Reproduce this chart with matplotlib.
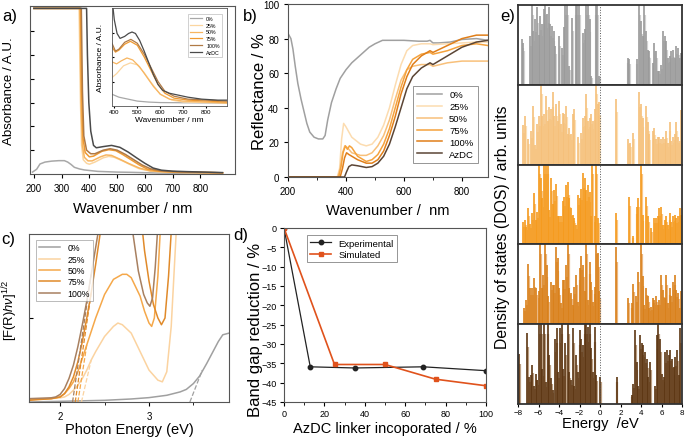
import numpy as np
import matplotlib
matplotlib.use("Agg")
import matplotlib.pyplot as plt
from matplotlib.ticker import MultipleLocator

NARROW = ['Liberation Sans Narrow', 'Liberation Sans', 'DejaVu Sans']
REG = ['Liberation Sans', 'DejaVu Sans']
plt.rcParams['font.family'] = NARROW
plt.rcParams['mathtext.fontset'] = 'custom'
plt.rcParams['mathtext.rm'] = 'Liberation Sans'
plt.rcParams['mathtext.it'] = 'Liberation Sans:italic'

labels_pct = ['0%', '25%', '50%', '75%', '100%', 'AzDC']

# ---------------- panel a : absorbance (main) ----------------
a_wl_0 = [195, 210, 222, 240, 264, 290, 310, 322, 334, 346, 365, 382, 430, 500, 550, 650, 750, 880]
a_ab_0 = [0.08, 0.2, 0.42, 0.5, 0.54, 0.56, 0.56, 0.5, 0.4, 0.28, 0.21, 0.17, 0.11, 0.08, 0.07, 0.04, 0.03, 0.02]
a_wl_25 = [200, 363, 368, 372, 378, 390, 400, 420, 450, 470, 490, 520, 550, 580, 620, 680, 750, 880]
a_ab_25 = [6.95, 6.95, 3.0, 1.2, 0.6, 0.45, 0.41, 0.5, 0.68, 0.74, 0.7, 0.55, 0.38, 0.22, 0.12, 0.08, 0.06, 0.05]
a_wl_50 = [200, 366, 370, 375, 382, 395, 410, 440, 460, 480, 510, 540, 580, 620, 680, 750, 880]
a_ab_50 = [6.95, 6.95, 3.0, 1.2, 0.7, 0.55, 0.55, 0.72, 0.8, 0.78, 0.62, 0.45, 0.25, 0.13, 0.08, 0.06, 0.05]
a_wl_75 = [200, 368, 372, 377, 385, 400, 415, 445, 470, 495, 520, 550, 580, 610, 650, 700, 880]
a_ab_75 = [6.95, 6.95, 3.5, 1.5, 0.9, 0.72, 0.75, 0.95, 1.02, 0.98, 0.82, 0.6, 0.38, 0.2, 0.12, 0.09, 0.05]
a_wl_100 = [200, 371, 375, 380, 390, 405, 420, 450, 475, 500, 530, 560, 590, 620, 660, 720, 880]
a_ab_100 = [6.95, 6.95, 3.5, 1.6, 1.0, 0.85, 0.85, 1.0, 1.06, 1.0, 0.82, 0.6, 0.38, 0.22, 0.13, 0.09, 0.05]
a_wl_az = [200, 390, 393, 398, 405, 415, 425, 450, 480, 510, 540, 570, 600, 630, 660, 700, 750, 880]
a_ab_az = [6.95, 6.95, 5.0, 3.0, 1.8, 1.2, 1.1, 1.15, 1.2, 1.12, 0.92, 0.68, 0.45, 0.25, 0.16, 0.12, 0.1, 0.06]

# ---------------- panel a : inset ----------------
i_wl_0 = [390, 420, 460, 500, 550, 600, 890]
i_ab_0 = [0.12, 0.09, 0.07, 0.05, 0.04, 0.035, 0.03]
i_wl_25 = [390, 410, 440, 470, 500, 530, 560, 600, 650, 700, 890]
i_ab_25 = [0.29, 0.33, 0.41, 0.44, 0.42, 0.34, 0.24, 0.12, 0.06, 0.04, 0.03]
i_wl_50 = [390, 410, 430, 455, 480, 510, 540, 570, 600, 640, 700, 890]
i_ab_50 = [0.45, 0.43, 0.46, 0.49, 0.47, 0.4, 0.3, 0.2, 0.12, 0.07, 0.05, 0.03]
i_wl_75 = [390, 405, 420, 445, 470, 500, 530, 560, 590, 620, 660, 720, 890]
i_ab_75 = [0.6, 0.55, 0.57, 0.63, 0.66, 0.62, 0.5, 0.36, 0.22, 0.13, 0.08, 0.06, 0.04]
i_wl_100 = [390, 405, 420, 445, 472, 500, 530, 560, 590, 620, 660, 720, 890]
i_ab_100 = [0.64, 0.56, 0.58, 0.65, 0.68, 0.64, 0.53, 0.39, 0.25, 0.15, 0.1, 0.07, 0.05]
i_wl_az = [390, 400, 412, 425, 445, 462, 477, 492, 510, 530, 550, 570, 590, 610, 640, 680, 720, 780, 850, 890]
i_ab_az = [1.1, 0.88, 0.74, 0.69, 0.71, 0.74, 0.755, 0.74, 0.67, 0.56, 0.44, 0.32, 0.22, 0.16, 0.13, 0.11, 0.09, 0.07, 0.06, 0.06]

# ---------------- panel b : reflectance ----------------
b_wl_0 = [200, 210, 217, 225, 234, 245, 255, 265, 275, 290, 305, 320, 328, 337, 350, 366, 380, 400, 420, 440, 460, 480, 500, 526, 560, 600, 650, 680, 690, 700, 720, 760, 800, 850, 890]
b_r_0 = [83, 80, 74, 64, 54, 45, 38, 31, 26, 23, 22, 22, 24, 33, 43, 51, 57, 62, 66, 69, 72, 75, 77, 79, 79, 79, 78.5, 78.5, 79, 77.5, 77.5, 78, 79.5, 80, 79]
b_wl_25 = [200, 370, 378, 385, 392, 400, 420, 450, 470, 490, 510, 530, 550, 570, 590, 610, 630, 660, 690, 700, 750, 800, 850, 890]
b_r_25 = [0, 0, 5, 22, 31, 29, 23, 19, 18, 19, 23, 30, 40, 53, 65, 73, 76, 77, 77, 76.5, 77, 77.5, 78, 78]
b_wl_50 = [200, 372, 380, 388, 396, 405, 420, 450, 470, 490, 510, 530, 550, 570, 590, 610, 630, 660, 690, 700, 750, 800, 850, 890]
b_r_50 = [0, 0, 5, 14, 18, 17, 14, 12.5, 12.5, 14, 18, 24, 33, 45, 56, 62, 64, 65, 65, 64, 66, 67, 67, 67]
b_wl_75 = [200, 375, 383, 390, 398, 405, 412, 420, 440, 470, 490, 510, 530, 550, 570, 590, 610, 630, 660, 690, 700, 750, 800, 850, 890]
b_r_75 = [0, 0, 6, 14, 18, 16, 18, 17, 12, 9, 10, 13, 19, 28, 40, 52, 62, 68, 71, 72, 71, 73, 76, 77, 76]
b_wl_100 = [200, 380, 388, 395, 402, 410, 420, 440, 470, 490, 510, 530, 550, 570, 590, 610, 630, 660, 690, 700, 750, 800, 850, 890]
b_r_100 = [0, 0, 5, 11, 14, 13, 12, 10, 8, 8, 10, 15, 24, 35, 48, 58, 65, 70, 73, 72, 76, 80, 82, 82]
b_wl_az = [200, 395, 402, 410, 420, 440, 470, 490, 510, 530, 550, 570, 590, 610, 630, 660, 690, 700, 750, 800, 850, 890]
b_r_az = [0, 0, 3, 6, 7, 6.5, 5.5, 6, 8, 12, 19, 29, 40, 51, 58, 63, 66, 65, 70, 75, 78, 79]

# ---------------- panel c : Tauc plot ----------------
c_e_0 = [1.65, 2.0, 2.5, 2.8, 3.0, 3.2, 3.35, 3.42, 3.5, 3.57, 3.65, 3.72, 3.78, 3.83, 3.9]
c_v_0 = [0.0, 0.004, 0.01, 0.018, 0.026, 0.04, 0.06, 0.075, 0.11, 0.155, 0.23, 0.3, 0.36, 0.4, 0.41]
c_e_25 = [1.65, 1.8, 1.9, 2.0, 2.05, 2.1, 2.15, 2.2, 2.25, 2.3, 2.35, 2.4, 2.5, 2.6, 2.65, 2.7, 2.8, 2.9, 3.0, 3.1, 3.15, 3.2, 3.25, 3.28, 3.31]
c_v_25 = [0.015, 0.017, 0.02, 0.025, 0.03, 0.045, 0.07, 0.1, 0.14, 0.19, 0.25, 0.3, 0.39, 0.45, 0.47, 0.46, 0.41, 0.3, 0.19, 0.13, 0.12, 0.18, 0.45, 0.75, 1.05]
c_e_50 = [1.65, 1.9, 2.0, 2.05, 2.1, 2.15, 2.2, 2.25, 2.3, 2.4, 2.5, 2.6, 2.7, 2.75, 2.8, 2.9, 2.95, 3.0, 3.03, 3.06, 3.1, 3.13]
c_v_50 = [0.015, 0.02, 0.03, 0.05, 0.08, 0.12, 0.18, 0.26, 0.34, 0.5, 0.64, 0.73, 0.76, 0.76, 0.74, 0.63, 0.54, 0.47, 0.45, 0.5, 0.75, 1.05]
c_e_75 = [1.65, 1.9, 2.0, 2.05, 2.1, 2.15, 2.2, 2.25, 2.3, 2.35, 2.4, 2.45, 2.5, 2.6, 2.8, 2.9, 2.95, 3.0, 3.05, 3.1, 3.14, 3.18, 3.22, 3.26]
c_v_75 = [0.01, 0.02, 0.03, 0.05, 0.09, 0.15, 0.24, 0.36, 0.5, 0.65, 0.82, 1.0, 1.2, 1.6, 1.6, 1.15, 0.9, 0.72, 0.58, 0.5, 0.46, 0.5, 0.75, 1.1]
c_e_100 = [1.65, 1.9, 1.95, 2.0, 2.05, 2.1, 2.15, 2.2, 2.25, 2.3, 2.35, 2.4, 2.45, 2.5, 2.6, 2.75, 2.82, 2.88, 2.94, 2.98, 3.01, 3.04, 3.07, 3.1]
c_v_100 = [0.02, 0.025, 0.03, 0.045, 0.08, 0.14, 0.22, 0.33, 0.46, 0.6, 0.76, 0.92, 1.08, 1.25, 1.6, 1.6, 1.0, 0.78, 0.64, 0.59, 0.57, 0.62, 0.8, 1.05]
# tangent (band-gap extrapolation) lines: start energy, end energy, end value
c_tan_x0 = [3.46, 2.24, 2.2, 2.17, 2.14]
c_tan_x1 = [3.6, 2.35, 2.3, 2.35, 2.35]
c_tan_y1 = [0.19, 0.25, 0.34, 0.65, 0.76]

# ---------------- panel d : band gap reduction ----------------
d_exp_x = [0, 13, 35, 69, 100]
d_exp_y = [0, -35.9, -36.2, -35.9, -36.9]
d_sim_x = [0, 25, 50, 75, 100]
d_sim_y = [0, -35.3, -35.3, -39.1, -40.8]

# ---------------- panel e : DOS spikes (energy eV, relative height) ----------------
e1_E = [-7.64, -7.51, -6.82, -6.66, -6.49, -6.33, -6.16, -6.00, -5.84, -5.67, -5.51, -5.34, -5.18, -5.02, -4.85, -4.69, -4.52, -4.36, -4.03, -3.70, -3.54, -3.38, -3.21, -3.05, -2.72, -2.39, -2.23, -2.07, -1.67, -1.51, -1.34, -1.18, -1.02, -0.85, -0.43, -0.26, -0.10,
        2.69, 2.85, 3.57, 3.84, 4.00, 4.16, 4.30, 4.49, 4.66, 4.82, 5.15, 5.31, 5.48, 5.64, 5.80, 5.97, 6.13, 6.30, 6.46, 6.62, 6.79, 6.95, 7.11, 7.28, 7.44, 7.61, 7.77, 7.93]
e1_H = [0.57, 0.53, 0.61, 1.1, 0.68, 0.82, 0.97, 0.63, 0.86, 0.76, 0.95, 1.1, 0.89, 0.97, 0.76, 0.74, 0.68, 0.49, 0.61, 0.46, 0.72, 1.1, 1.1, 0.23, 0.84, 1.1, 1.1, 1.1, 0.65, 0.70, 1.1, 1.1, 0.82, 0.11, 1.1, 1.1, 0.11,
        0.34, 0.32, 0.32, 1.1, 0.80, 0.61, 1.1, 0.68, 0.44, 0.42, 0.27, 0.53, 0.42, 0.17, 0.17, 0.25, 0.68, 0.61, 0.55, 0.34, 0.36, 0.42, 0.44, 0.34, 0.49, 0.46, 0.34, 0.40]
e2_E = [-7.51, -7.31, -6.98, -6.75, -6.49, -6.33, -6.10, -5.93, -5.77, -5.61, -5.44, -5.28, -5.11, -4.95, -4.79, -4.62, -4.46, -4.30, -4.13, -3.97, -3.80, -3.64, -3.48, -3.31, -3.15, -2.98, -2.82, -2.66, -2.49, -2.16, -1.84, -1.67, -1.51, -1.34, -1.18, -1.02, -0.85, -0.69, -0.52, -0.36, -0.20, -0.10,
        1.54, 2.75, 2.92, 3.25, 3.84, 4.00, 4.16, 4.49, 4.66, 4.82, 5.15, 5.31, 5.48, 5.64, 5.80, 5.97, 6.13, 6.30, 6.46, 6.62, 6.79, 6.95, 7.11, 7.28, 7.44, 7.61, 7.77, 7.93]
e2_H = [0.49, 0.61, 0.32, 0.42, 0.74, 0.25, 0.51, 0.61, 1.1, 0.61, 0.63, 0.86, 0.55, 0.72, 0.70, 0.91, 0.61, 0.76, 0.55, 0.80, 0.51, 0.65, 0.63, 0.74, 0.38, 0.46, 0.38, 0.63, 0.70, 0.34, 0.40, 0.59, 0.61, 0.89, 0.55, 0.59, 0.63, 0.55, 0.70, 1.1, 0.76, 0.78,
        0.82, 0.32, 0.27, 0.40, 0.91, 0.76, 0.59, 0.74, 0.53, 0.38, 0.42, 0.46, 0.32, 0.34, 0.34, 0.32, 0.34, 0.32, 0.42, 0.27, 0.53, 0.30, 0.34, 0.38, 0.53, 0.34, 0.30, 0.68]
e3_E = [-7.51, -7.34, -7.18, -7.02, -6.82, -6.66, -6.43, -6.26, -6.10, -5.93, -5.77, -5.61, -5.44, -5.28, -5.11, -4.95, -4.79, -4.62, -4.46, -4.30, -4.13, -3.97, -3.80, -3.64, -3.48, -3.31, -3.15, -2.98, -2.82, -2.66, -2.49, -2.33, -2.16, -2.00, -1.84, -1.67, -1.51, -1.34, -1.18, -1.02, -0.85, -0.75, -0.52, -0.36, -0.20,
        1.54, 2.85, 3.18, 3.57, 3.74, 4.00, 4.16, 4.49, 4.66, 4.98, 5.31, 5.48, 5.64, 5.80, 5.97, 6.13, 6.30, 6.46, 6.62, 6.79, 6.95, 7.11, 7.28, 7.44, 7.61, 7.77, 7.93]
e3_H = [0.28, 0.30, 0.22, 0.45, 0.26, 0.39, 0.64, 0.30, 0.41, 1.1, 0.83, 0.58, 1.1, 1.1, 1.1, 0.43, 0.83, 0.51, 0.68, 0.76, 0.35, 0.35, 0.35, 0.55, 0.60, 0.74, 0.78, 0.58, 0.45, 0.37, 0.33, 0.24, 0.62, 0.58, 0.70, 0.89, 0.83, 0.68, 0.74, 0.66, 0.35, 1.1, 0.35, 1.1, 0.33,
        0.39, 0.60, 0.10, 0.47, 0.58, 1.1, 0.37, 0.60, 0.35, 0.20, 0.33, 0.33, 0.35, 0.45, 0.47, 0.24, 0.30, 0.35, 0.24, 0.39, 0.28, 0.35, 0.37, 0.33, 0.35, 0.45, 0.37]
e4_E = [-7.41, -7.25, -6.98, -6.82, -6.66, -6.43, -6.26, -6.00, -5.87, -5.70, -5.54, -5.38, -5.21, -5.05, -4.79, -4.62, -4.46, -4.30, -4.13, -3.97, -3.80, -3.64, -3.48, -3.31, -3.15, -2.98, -2.82, -2.66, -2.49, -2.33, -2.16, -2.00, -1.84, -1.67, -1.51, -1.34, -1.18, -1.02, -0.85, -0.69, -0.52, -0.36, -0.20, -0.10,
        1.54, 2.75, 3.08, 3.25, 3.51, 3.74, 4.00, 4.16, 4.33, 4.49, 4.66, 4.82, 4.98, 5.15, 5.31, 5.48, 5.64, 5.80, 5.97, 6.13, 6.30, 6.46, 6.62, 6.79, 6.95, 7.11, 7.28, 7.44, 7.61, 7.77, 7.93]
e4_H = [0.20, 0.30, 0.76, 0.45, 0.45, 0.58, 0.45, 0.41, 1.1, 0.45, 0.62, 1.1, 0.74, 0.35, 0.53, 0.49, 0.49, 0.97, 0.83, 0.45, 0.26, 0.55, 0.55, 0.74, 1.1, 0.45, 0.39, 0.24, 0.47, 0.62, 0.28, 0.70, 0.85, 0.74, 0.41, 1.1, 0.30, 0.78, 0.53, 0.28, 0.47, 1.1, 0.89, 0.41,
        0.97, 0.33, 0.26, 0.51, 0.35, 0.66, 1.1, 0.60, 0.24, 0.45, 0.35, 0.20, 0.22, 0.33, 0.30, 0.35, 0.24, 0.30, 0.62, 0.43, 0.33, 0.62, 0.26, 0.45, 0.35, 0.53, 0.62, 0.43, 0.39, 0.20, 0.41]
e5_E = [-7.90, -7.08, -6.92, -6.75, -6.59, -6.43, -6.26, -6.10, -5.93, -5.77, -5.61, -5.44, -5.28, -5.11, -4.95, -4.79, -4.62, -4.36, -4.23, -4.07, -3.90, -3.74, -3.57, -3.41, -3.15, -2.98, -2.82, -2.66, -2.49, -2.33, -2.16, -2.00, -1.84, -1.67, -1.51, -1.34, -1.18, -1.02, -0.85, -0.69, -0.52, -0.36, -0.03,
        1.61, 3.08, 3.25, 3.41, 3.57, 3.74, 3.90, 4.07, 4.23, 4.39, 4.56, 4.72, 4.89, 5.38, 5.54, 5.70, 5.87, 6.03, 6.20, 6.36, 6.52, 6.69, 6.85, 7.02, 7.18, 7.34, 7.51, 7.67, 7.84]
e5_H = [0.63, 0.89, 0.34, 0.36, 0.49, 0.23, 0.38, 0.30, 1.1, 1.1, 0.44, 1.1, 0.27, 1.1, 0.61, 0.32, 0.17, 0.82, 0.95, 0.40, 0.95, 1.1, 0.44, 0.76, 1.1, 0.40, 0.30, 0.95, 0.23, 0.61, 0.40, 0.93, 0.82, 0.74, 1.1, 1.1, 0.97, 1.1, 0.70, 0.40, 0.97, 0.36, 0.34,
        0.34, 0.11, 0.25, 0.93, 0.53, 0.23, 0.86, 0.76, 0.74, 0.65, 0.57, 0.34, 0.53, 0.23, 0.86, 1.1, 0.82, 0.38, 0.34, 0.65, 0.68, 0.61, 0.68, 0.57, 0.46, 0.59, 0.68, 0.36, 0.95]

# ---------------- styling ----------------
W, H = 685, 439
fig = plt.figure(figsize=(6.85, 4.39), dpi=100)

def box(l, t, r, b):
    return [l / W, 1 - b / H, (r - l) / W, (b - t) / H]

col_a = ['#a8a8a8', '#fbd6a0', '#f7b560', '#f09a30', '#b07a45', '#4a4a4a']
col_b = ['#a0a0a0', '#fcdcb0', '#f8c07a', '#f5a23c', '#e07f1a', '#5b4535']
col_c = ['#a0a0a0', '#fbd3a0', '#f5a84a', '#e08a2a', '#a88060']
tick_fs = 7
xlab_fs = 10.5

# ===== panel a =====
ax_a = fig.add_axes(box(30, 7, 235, 175))
a_sets = [(a_wl_0, a_ab_0), (a_wl_25, a_ab_25), (a_wl_50, a_ab_50),
          (a_wl_75, a_ab_75), (a_wl_100, a_ab_100), (a_wl_az, a_ab_az)]
for (x, y), c in zip(a_sets, col_a):
    ax_a.plot(x, y, color=c, lw=1.1)
ax_a.set_xlim(186, 925)
ax_a.set_ylim(0, 7.05)
ax_a.set_xticks([200, 300, 400, 500, 600, 700, 800])
ax_a.set_yticks([1, 2, 3, 4, 5, 6])
ax_a.set_yticklabels([])
ax_a.tick_params(axis='y', direction='in', length=3)
ax_a.tick_params(axis='x', labelsize=tick_fs, length=3)
ax_a.set_xlabel('Wavenumber / nm', fontsize=xlab_fs)
ax_a.set_ylabel('Absorbance / A.U.', fontsize=9.6, family=REG)
ax_a.xaxis.set_label_coords(0.5, -0.16)
ax_a.yaxis.set_label_coords(-0.075, 0.5)
for s in ax_a.spines.values():
    s.set_color('#555555')

# inset
ax_i = fig.add_axes(box(112, 9, 227, 107))
i_sets = [(i_wl_0, i_ab_0), (i_wl_25, i_ab_25), (i_wl_50, i_ab_50),
          (i_wl_75, i_ab_75), (i_wl_100, i_ab_100), (i_wl_az, i_ab_az)]
for (x, y), c, lab in zip(i_sets, col_a, labels_pct):
    ax_i.plot(x, y, color=c, lw=0.9, label=lab)
ax_i.set_xlim(390, 890)
ax_i.set_ylim(0, 1.0)
ax_i.set_xticks([400, 500, 600, 700, 800])
ax_i.set_yticks([0.25, 0.5, 0.75])
ax_i.set_yticklabels([])
ax_i.tick_params(axis='x', labelsize=4.5, length=1.5, pad=1)
ax_i.tick_params(axis='y', direction='in', length=1.5)
ax_i.set_xlabel('Wavenumber / nm', fontsize=6, labelpad=1)
ax_i.set_ylabel('Absorbance / A.U.', fontsize=6, labelpad=2, family=REG)
for s in ax_i.spines.values():
    s.set_color('#555555')
    s.set_linewidth(0.6)
leg = ax_i.legend(loc='upper right', bbox_to_anchor=(0.98, 0.97), fontsize=3.8,
                  handlelength=2.2, labelspacing=0.35, borderpad=0.4,
                  frameon=True, fancybox=False, edgecolor='#999999')
leg.get_frame().set_linewidth(0.4)

# ===== panel b =====
ax_b = fig.add_axes(box(288, 5, 488, 178))
b_sets = [(b_wl_0, b_r_0), (b_wl_25, b_r_25), (b_wl_50, b_r_50),
          (b_wl_75, b_r_75), (b_wl_100, b_r_100), (b_wl_az, b_r_az)]
for (x, y), c, lab in zip(b_sets, col_b, labels_pct):
    ax_b.plot(x, y, color=c, lw=1.1, label=lab)
ax_b.set_xlim(200, 890)
ax_b.set_ylim(0, 100)
ax_b.set_xticks([200, 400, 600, 800])
ax_b.set_yticks([0, 20, 40, 60, 80, 100])
ax_b.xaxis.set_minor_locator(MultipleLocator(100))
ax_b.tick_params(labelsize=tick_fs, length=3)
ax_b.tick_params(which='minor', length=2)
ax_b.set_xlabel('Wavenumber /  nm', fontsize=xlab_fs)
ax_b.set_ylabel('Reflectance / %', fontsize=12, family=REG)
ax_b.xaxis.set_label_coords(0.5, -0.15)
ax_b.yaxis.set_label_coords(-0.105, 0.5)
for s in ax_b.spines.values():
    s.set_color('#555555')
leg = ax_b.legend(loc='lower right', bbox_to_anchor=(0.975, 0.055), fontsize=6.8,
                  handlelength=2.6, labelspacing=0.3, borderpad=0.45,
                  frameon=True, fancybox=False, edgecolor='#666666')
leg.get_frame().set_linewidth(0.6)

# ===== panel c =====
ax_c = fig.add_axes(box(29, 235, 229, 403))
c_sets = [(c_e_0, c_v_0), (c_e_25, c_v_25), (c_e_50, c_v_50),
          (c_e_75, c_v_75), (c_e_100, c_v_100)]
for (x, y), c, lab in zip(c_sets, col_c, labels_pct[:5]):
    ax_c.plot(x, y, color=c, lw=1.1, label=lab)
for x0, x1, y1, c in zip(c_tan_x0, c_tan_x1, c_tan_y1, col_c):
    ax_c.plot([x0, x1], [0, y1], color=c, lw=0.9, ls='--')
ax_c.set_xlim(1.65, 3.9)
ax_c.set_ylim(0, 1.0)
ax_c.set_xticks([2, 3])
ax_c.xaxis.set_minor_locator(MultipleLocator(0.5))
ax_c.set_yticks([0.5])
ax_c.set_yticklabels([])
ax_c.tick_params(axis='x', labelsize=tick_fs, length=3)
ax_c.tick_params(axis='x', which='minor', length=2)
ax_c.tick_params(axis='y', direction='in', length=3)
ax_c.set_xlabel('Photon Energy (eV)', fontsize=xlab_fs)
ax_c.set_ylabel(r'[F(R)$\mathit{h\nu}$]$^{1/2}$', fontsize=9.4, family=REG)
ax_c.xaxis.set_label_coords(0.5, -0.12)
ax_c.yaxis.set_label_coords(-0.045, 0.55)
for s in ax_c.spines.values():
    s.set_color('#555555')
leg = ax_c.legend(loc='upper left', bbox_to_anchor=(0.015, 0.99), fontsize=6.3,
                  handlelength=2.4, labelspacing=0.28, borderpad=0.35,
                  frameon=True, fancybox=False, edgecolor='#888888')
leg.get_frame().set_linewidth(0.5)

# ===== panel d =====
ax_d = fig.add_axes(box(284, 229, 486, 403))
ax_d.plot(d_exp_x, d_exp_y, color='#222222', lw=0.9, marker='o', ms=3.2, label='Experimental')
ax_d.plot(d_sim_x, d_sim_y, color='#e0521c', lw=1.2, marker='s', ms=3.2, label='Simulated')
ax_d.set_xlim(0, 100)
ax_d.set_ylim(-45, 0)
ax_d.set_xticks([0, 20, 40, 60, 80, 100])
ax_d.set_yticks(list(range(-45, 1, 5)))
ax_d.xaxis.set_minor_locator(MultipleLocator(10))
ax_d.tick_params(labelsize=6.5, length=3, pad=2)
ax_d.tick_params(which='minor', length=2)
ax_d.set_xlabel('AzDC linker incoporated / %', fontsize=xlab_fs)
ax_d.set_ylabel('Band gap reduction / %', fontsize=12, family=REG)
ax_d.xaxis.set_label_coords(0.5, -0.11)
ax_d.yaxis.set_label_coords(-0.105, 0.42)
for s in ax_d.spines.values():
    s.set_color('#555555')
leg = ax_d.legend(loc='upper left', bbox_to_anchor=(0.09, 0.985), fontsize=6.8,
                  handlelength=2.2, labelspacing=0.25, borderpad=0.35,
                  frameon=True, fancybox=False, edgecolor='#666666')
leg.get_frame().set_linewidth(0.6)

# ===== panel e =====
e_sets = [(e1_E, e1_H), (e2_E, e2_H), (e3_E, e3_H), (e4_E, e4_H), (e5_E, e5_H)]
e_cols = [('#9a9a9a', '#d2d2d2'), ('#f5c07a', '#fbe0b8'), ('#f59a1c', '#f9c788'),
          ('#d9801a', '#ebb883'), ('#5c3612', '#bca084')]
top, bot = 6, 405
step = (bot - top) / 5
for k, ((E, Hh), (cm, cl)) in enumerate(zip(e_sets, e_cols)):
    ax = fig.add_axes(box(518, top + k * step, 682, top + (k + 1) * step))
    E = np.asarray(E); Hh = np.asarray(Hh)
    # lighter companion beside each spike, then the spike itself
    ax.vlines(E + 0.08, 0, Hh * 0.8, color=cl, lw=1.6)
    ax.vlines(E, 0, Hh, color=cm, lw=1.2)
    ax.axvline(0, color='#555555', lw=0.7, ls=':')
    ax.set_xlim(-8, 8)
    ax.set_ylim(0, 1.0)
    ax.set_yticks([])
    ax.set_xticks(range(-8, 9, 2))
    if k < 4:
        ax.tick_params(axis='x', labelbottom=False, length=0)
    else:
        ax.tick_params(axis='x', labelsize=5.8, length=2, pad=1.5)
        ax.set_xlabel('Energy  /eV', fontsize=xlab_fs, labelpad=0)
    for s in ax.spines.values():
        s.set_color('#333333')
        s.set_linewidth(1.3)

fig.text(503 / W, 1 - 227 / H, 'Density of states (DOS) / arb. units', rotation=90,
         ha='center', va='center', fontsize=11.3, family=REG)

# panel letters
for txt, x, y in [('a)', 2, 16), ('b)', 243, 16), ('c)', 1, 240), ('d)', 233, 236), ('e)', 500, 16)]:
    fig.text(x / W, 1 - y / H, txt, fontsize=12, ha='left', va='center', family=REG)

fig.savefig('out.png', dpi=100)
